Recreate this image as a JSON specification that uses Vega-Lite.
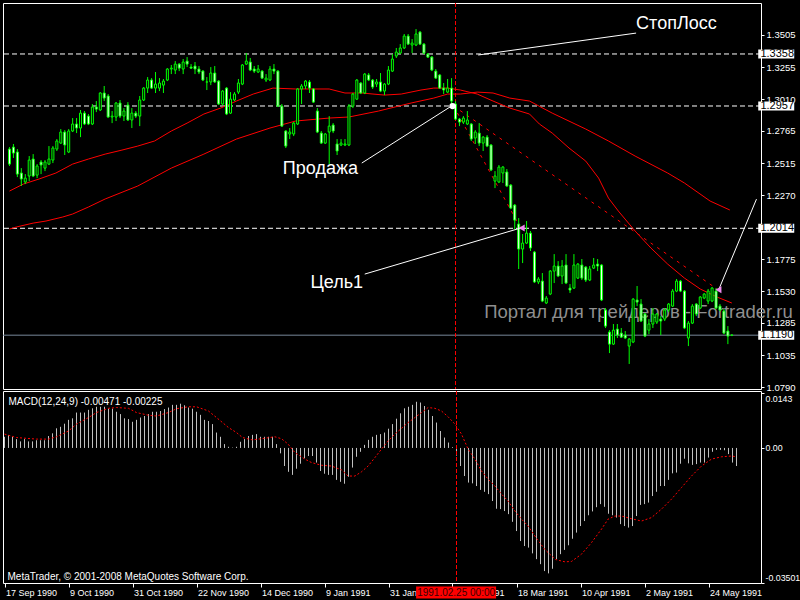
{
"$schema":"https://vega.github.io/schema/vega-lite/v6.json",
"background":"black",
"padding":{"left":2,"top":2,"right":0,"bottom":0},
"bounds":"flush",
"config":{"view":{"stroke":"white","strokeWidth":1},"text":{"font":"Liberation Sans"}},
"spacing":2,
"datasets":{
"c":[
{"i":0,"o":1.2625,"h":1.2640,"l":1.2494,"c":1.2509},{"i":1,"o":1.2640,"h":1.2664,"l":1.2556,"c":1.2594},{"i":2,"o":1.2602,"h":1.2625,"l":1.2409,"c":1.2432},{"i":3,"o":1.2440,"h":1.2478,"l":1.2340,"c":1.2394},{"i":4,"o":1.2371,"h":1.2432,"l":1.2355,"c":1.2401},{"i":5,"o":1.2417,"h":1.2571,"l":1.2378,"c":1.2540},{"i":6,"o":1.2548,"h":1.2586,"l":1.2409,"c":1.2417},{"i":7,"o":1.2424,"h":1.2509,"l":1.2401,"c":1.2494},{"i":8,"o":1.2525,"h":1.2540,"l":1.2432,"c":1.2502},{"i":9,"o":1.2478,"h":1.2540,"l":1.2455,"c":1.2525},
{"i":10,"o":1.2509,"h":1.2648,"l":1.2502,"c":1.2548},{"i":11,"o":1.2540,"h":1.2648,"l":1.2517,"c":1.2633},{"i":12,"o":1.2625,"h":1.2702,"l":1.2610,"c":1.2687},{"i":13,"o":1.2671,"h":1.2779,"l":1.2664,"c":1.2756},{"i":14,"o":1.2756,"h":1.2771,"l":1.2579,"c":1.2656},{"i":15,"o":1.2602,"h":1.2779,"l":1.2594,"c":1.2764},{"i":16,"o":1.2764,"h":1.2864,"l":1.2756,"c":1.2818},{"i":17,"o":1.2818,"h":1.2864,"l":1.2748,"c":1.2787},{"i":18,"o":1.2787,"h":1.2926,"l":1.2717,"c":1.2902},{"i":19,"o":1.2902,"h":1.2918,"l":1.2810,"c":1.2818},
{"i":20,"o":1.2879,"h":1.2895,"l":1.2810,"c":1.2818},{"i":21,"o":1.2818,"h":1.2972,"l":1.2810,"c":1.2949},{"i":22,"o":1.2949,"h":1.2995,"l":1.2910,"c":1.2933},{"i":23,"o":1.2926,"h":1.3064,"l":1.2918,"c":1.3057},{"i":24,"o":1.3057,"h":1.3111,"l":1.2995,"c":1.3018},{"i":25,"o":1.3034,"h":1.3049,"l":1.2864,"c":1.2872},{"i":26,"o":1.2872,"h":1.2918,"l":1.2825,"c":1.2879},{"i":27,"o":1.2872,"h":1.2987,"l":1.2841,"c":1.2980},{"i":28,"o":1.2980,"h":1.3003,"l":1.2864,"c":1.2879},{"i":29,"o":1.2879,"h":1.2941,"l":1.2841,"c":1.2918},
{"i":30,"o":1.2964,"h":1.2987,"l":1.2841,"c":1.2849},{"i":31,"o":1.2849,"h":1.2941,"l":1.2787,"c":1.2902},{"i":32,"o":1.2902,"h":1.2918,"l":1.2864,"c":1.2879},{"i":33,"o":1.2879,"h":1.3034,"l":1.2802,"c":1.3003},{"i":34,"o":1.3003,"h":1.3103,"l":1.2995,"c":1.3095},{"i":35,"o":1.3095,"h":1.3180,"l":1.3057,"c":1.3157},{"i":36,"o":1.3157,"h":1.3172,"l":1.3088,"c":1.3095},{"i":37,"o":1.3095,"h":1.3219,"l":1.3057,"c":1.3126},{"i":38,"o":1.3095,"h":1.3172,"l":1.3072,"c":1.3134},{"i":39,"o":1.3118,"h":1.3165,"l":1.3057,"c":1.3149},
{"i":40,"o":1.3157,"h":1.3249,"l":1.3149,"c":1.3242},{"i":41,"o":1.3242,"h":1.3273,"l":1.3203,"c":1.3249},{"i":42,"o":1.3234,"h":1.3303,"l":1.3203,"c":1.3280},{"i":43,"o":1.3280,"h":1.3288,"l":1.3226,"c":1.3249},{"i":44,"o":1.3242,"h":1.3319,"l":1.3203,"c":1.3296},{"i":45,"o":1.3303,"h":1.3334,"l":1.3257,"c":1.3280},{"i":46,"o":1.3257,"h":1.3280,"l":1.3242,"c":1.3249},{"i":47,"o":1.3265,"h":1.3296,"l":1.3203,"c":1.3242},{"i":48,"o":1.3242,"h":1.3265,"l":1.3203,"c":1.3219},{"i":49,"o":1.3226,"h":1.3234,"l":1.3149,"c":1.3157},
{"i":50,"o":1.3142,"h":1.3180,"l":1.3080,"c":1.3142},{"i":51,"o":1.3142,"h":1.3257,"l":1.3118,"c":1.3211},{"i":52,"o":1.3211,"h":1.3265,"l":1.3134,"c":1.3142},{"i":53,"o":1.3149,"h":1.3157,"l":1.2964,"c":1.2972},{"i":54,"o":1.2972,"h":1.3080,"l":1.2964,"c":1.3072},{"i":55,"o":1.3095,"h":1.3103,"l":1.2887,"c":1.2895},{"i":56,"o":1.2902,"h":1.3064,"l":1.2895,"c":1.3010},{"i":57,"o":1.3003,"h":1.3064,"l":1.2995,"c":1.3049},{"i":58,"o":1.3064,"h":1.3165,"l":1.3049,"c":1.3134},{"i":59,"o":1.3126,"h":1.3280,"l":1.3118,"c":1.3273},
{"i":60,"o":1.3280,"h":1.3365,"l":1.3273,"c":1.3303},{"i":61,"o":1.3296,"h":1.3327,"l":1.3226,"c":1.3234},{"i":62,"o":1.3242,"h":1.3265,"l":1.3211,"c":1.3226},{"i":63,"o":1.3219,"h":1.3273,"l":1.3211,"c":1.3242},{"i":64,"o":1.3226,"h":1.3234,"l":1.3165,"c":1.3172},{"i":65,"o":1.3157,"h":1.3203,"l":1.3142,"c":1.3172},{"i":66,"o":1.3157,"h":1.3265,"l":1.3149,"c":1.3242},{"i":67,"o":1.3242,"h":1.3280,"l":1.3203,"c":1.3226},{"i":68,"o":1.3226,"h":1.3234,"l":1.2949,"c":1.2956},{"i":69,"o":1.2956,"h":1.2972,"l":1.2795,"c":1.2802},
{"i":70,"o":1.2764,"h":1.2771,"l":1.2633,"c":1.2648},{"i":71,"o":1.2741,"h":1.2787,"l":1.2702,"c":1.2756},{"i":72,"o":1.2741,"h":1.2833,"l":1.2725,"c":1.2825},{"i":73,"o":1.2818,"h":1.3095,"l":1.2810,"c":1.3088},{"i":74,"o":1.3088,"h":1.3126,"l":1.2972,"c":1.3111},{"i":75,"o":1.3111,"h":1.3157,"l":1.3088,"c":1.3149},{"i":76,"o":1.3142,"h":1.3157,"l":1.3057,"c":1.3095},{"i":77,"o":1.3088,"h":1.3095,"l":1.2980,"c":1.2987},{"i":78,"o":1.2918,"h":1.2941,"l":1.2748,"c":1.2756},{"i":79,"o":1.2748,"h":1.2764,"l":1.2664,"c":1.2671},
{"i":80,"o":1.2671,"h":1.2748,"l":1.2664,"c":1.2741},{"i":81,"o":1.2756,"h":1.2879,"l":1.2509,"c":1.2802},{"i":82,"o":1.2810,"h":1.2825,"l":1.2748,"c":1.2764},{"i":83,"o":1.2664,"h":1.2702,"l":1.2579,"c":1.2610},{"i":84,"o":1.2656,"h":1.2702,"l":1.2648,"c":1.2671},{"i":85,"o":1.2656,"h":1.2702,"l":1.2648,"c":1.2664},{"i":86,"o":1.2656,"h":1.2972,"l":1.2648,"c":1.2956},{"i":87,"o":1.2956,"h":1.3057,"l":1.2941,"c":1.3049},{"i":88,"o":1.3010,"h":1.3165,"l":1.3003,"c":1.3157},{"i":89,"o":1.3134,"h":1.3142,"l":1.3049,"c":1.3057},
{"i":90,"o":1.3057,"h":1.3211,"l":1.3049,"c":1.3203},{"i":91,"o":1.3196,"h":1.3211,"l":1.3149,"c":1.3157},{"i":92,"o":1.3157,"h":1.3165,"l":1.3088,"c":1.3103},{"i":93,"o":1.3126,"h":1.3165,"l":1.3103,"c":1.3142},{"i":94,"o":1.3142,"h":1.3211,"l":1.3064,"c":1.3072},{"i":95,"o":1.3072,"h":1.3134,"l":1.3041,"c":1.3126},{"i":96,"o":1.3126,"h":1.3265,"l":1.3118,"c":1.3234},{"i":97,"o":1.3226,"h":1.3357,"l":1.3219,"c":1.3319},{"i":98,"o":1.3342,"h":1.3404,"l":1.3327,"c":1.3373},{"i":99,"o":1.3365,"h":1.3434,"l":1.3357,"c":1.3404},
{"i":100,"o":1.3404,"h":1.3512,"l":1.3396,"c":1.3496},{"i":101,"o":1.3496,"h":1.3512,"l":1.3427,"c":1.3434},{"i":102,"o":1.3427,"h":1.3473,"l":1.3365,"c":1.3442},{"i":103,"o":1.3427,"h":1.3550,"l":1.3419,"c":1.3512},{"i":104,"o":1.3527,"h":1.3535,"l":1.3427,"c":1.3434},{"i":105,"o":1.3434,"h":1.3442,"l":1.3357,"c":1.3365},{"i":106,"o":1.3357,"h":1.3365,"l":1.3327,"c":1.3334},{"i":107,"o":1.3334,"h":1.3342,"l":1.3226,"c":1.3234},{"i":108,"o":1.3226,"h":1.3242,"l":1.3165,"c":1.3172},{"i":109,"o":1.3196,"h":1.3203,"l":1.3088,"c":1.3095},
{"i":110,"o":1.3095,"h":1.3134,"l":1.3049,"c":1.3080},{"i":111,"o":1.3064,"h":1.3165,"l":1.3057,"c":1.3095},{"i":112,"o":1.3095,"h":1.3172,"l":1.2972,"c":1.2995},{"i":113,"o":1.2972,"h":1.2995,"l":1.2849,"c":1.2856},{"i":114,"o":1.2856,"h":1.2864,"l":1.2802,"c":1.2833},{"i":115,"o":1.2833,"h":1.2879,"l":1.2818,"c":1.2864},{"i":116,"o":1.2818,"h":1.2918,"l":1.2810,"c":1.2849},{"i":117,"o":1.2818,"h":1.2825,"l":1.2687,"c":1.2702},{"i":118,"o":1.2710,"h":1.2771,"l":1.2664,"c":1.2756},{"i":119,"o":1.2748,"h":1.2825,"l":1.2648,"c":1.2671},
{"i":120,"o":1.2671,"h":1.2725,"l":1.2610,"c":1.2717},{"i":121,"o":1.2717,"h":1.2733,"l":1.2640,"c":1.2648},{"i":122,"o":1.2656,"h":1.2664,"l":1.2455,"c":1.2463},{"i":123,"o":1.2378,"h":1.2455,"l":1.2324,"c":1.2417},{"i":124,"o":1.2371,"h":1.2502,"l":1.2363,"c":1.2486},{"i":125,"o":1.2440,"h":1.2494,"l":1.2363,"c":1.2486},{"i":126,"o":1.2448,"h":1.2471,"l":1.2332,"c":1.2340},{"i":127,"o":1.2347,"h":1.2355,"l":1.2162,"c":1.2170},{"i":128,"o":1.2193,"h":1.2201,"l":1.2008,"c":1.2077},{"i":129,"o":1.2047,"h":1.2093,"l":1.1700,"c":1.1854},
{"i":130,"o":1.1854,"h":1.1970,"l":1.1746,"c":1.1900},{"i":131,"o":1.1900,"h":1.2070,"l":1.1893,"c":1.1977},{"i":132,"o":1.1977,"h":1.1993,"l":1.1839,"c":1.1862},{"i":133,"o":1.1831,"h":1.1839,"l":1.1592,"c":1.1600},{"i":134,"o":1.1600,"h":1.1638,"l":1.1584,"c":1.1623},{"i":135,"o":1.1607,"h":1.1669,"l":1.1445,"c":1.1453},{"i":136,"o":1.1438,"h":1.1492,"l":1.1430,"c":1.1476},{"i":137,"o":1.1507,"h":1.1692,"l":1.1499,"c":1.1684},{"i":138,"o":1.1684,"h":1.1815,"l":1.1592,"c":1.1723},{"i":139,"o":1.1723,"h":1.1761,"l":1.1638,"c":1.1646},
{"i":140,"o":1.1646,"h":1.1769,"l":1.1584,"c":1.1723},{"i":141,"o":1.1731,"h":1.1815,"l":1.1584,"c":1.1592},{"i":142,"o":1.1553,"h":1.1584,"l":1.1515,"c":1.1538},{"i":143,"o":1.1553,"h":1.1815,"l":1.1546,"c":1.1731},{"i":144,"o":1.1630,"h":1.1746,"l":1.1623,"c":1.1738},{"i":145,"o":1.1731,"h":1.1777,"l":1.1615,"c":1.1630},{"i":146,"o":1.1715,"h":1.1723,"l":1.1600,"c":1.1615},{"i":147,"o":1.1615,"h":1.1723,"l":1.1607,"c":1.1700},{"i":148,"o":1.1707,"h":1.1785,"l":1.1700,"c":1.1731},{"i":149,"o":1.1738,"h":1.1777,"l":1.1684,"c":1.1723},
{"i":150,"o":1.1731,"h":1.1738,"l":1.1453,"c":1.1461},{"i":151,"o":1.1384,"h":1.1399,"l":1.1245,"c":1.1260},{"i":152,"o":1.1214,"h":1.1229,"l":1.1052,"c":1.1121},{"i":153,"o":1.1121,"h":1.1276,"l":1.1114,"c":1.1229},{"i":154,"o":1.1237,"h":1.1276,"l":1.1168,"c":1.1191},{"i":155,"o":1.1206,"h":1.1245,"l":1.1168,"c":1.1175},{"i":156,"o":1.1191,"h":1.1222,"l":1.1160,"c":1.1168},{"i":157,"o":1.1106,"h":1.1168,"l":1.0968,"c":1.1160},{"i":158,"o":1.1137,"h":1.1476,"l":1.1129,"c":1.1468},{"i":159,"o":1.1461,"h":1.1569,"l":1.1414,"c":1.1445},
{"i":160,"o":1.1430,"h":1.1468,"l":1.1291,"c":1.1299},{"i":161,"o":1.1353,"h":1.1361,"l":1.1175,"c":1.1183},{"i":162,"o":1.1229,"h":1.1314,"l":1.1198,"c":1.1276},{"i":163,"o":1.1276,"h":1.1399,"l":1.1245,"c":1.1353},{"i":164,"o":1.1291,"h":1.1361,"l":1.1276,"c":1.1353},{"i":165,"o":1.1314,"h":1.1337,"l":1.1191,"c":1.1299},{"i":166,"o":1.1314,"h":1.1399,"l":1.1299,"c":1.1384},{"i":167,"o":1.1384,"h":1.1438,"l":1.1368,"c":1.1430},{"i":168,"o":1.1414,"h":1.1546,"l":1.1407,"c":1.1530},{"i":169,"o":1.1530,"h":1.1623,"l":1.1522,"c":1.1607},
{"i":170,"o":1.1607,"h":1.1615,"l":1.1522,"c":1.1530},{"i":171,"o":1.1530,"h":1.1538,"l":1.1237,"c":1.1245},{"i":172,"o":1.1168,"h":1.1299,"l":1.1106,"c":1.1283},{"i":173,"o":1.1283,"h":1.1430,"l":1.1276,"c":1.1414},{"i":174,"o":1.1430,"h":1.1438,"l":1.1337,"c":1.1353},{"i":175,"o":1.1399,"h":1.1492,"l":1.1391,"c":1.1484},{"i":176,"o":1.1476,"h":1.1515,"l":1.1468,"c":1.1507},{"i":177,"o":1.1453,"h":1.1546,"l":1.1430,"c":1.1530},{"i":178,"o":1.1453,"h":1.1561,"l":1.1445,"c":1.1553},{"i":179,"o":1.1530,"h":1.1553,"l":1.1391,"c":1.1399},
{"i":180,"o":1.1414,"h":1.1430,"l":1.1376,"c":1.1384},{"i":181,"o":1.1376,"h":1.1391,"l":1.1198,"c":1.1206},{"i":182,"o":1.1222,"h":1.1260,"l":1.1121,"c":1.1183},{"i":183,"o":1.1191,"h":1.1194,"l":1.1183,"c":1.1190}
],
"m":[
{"i":0,"v":0.0029},{"i":1,"v":0.0033},{"i":2,"v":0.0029},{"i":3,"v":0.0023},{"i":4,"v":0.0017},{"i":5,"v":0.0023},{"i":6,"v":0.0017},{"i":7,"v":0.0017},{"i":8,"v":0.0020},{"i":9,"v":0.0020},
{"i":10,"v":0.0020},{"i":11,"v":0.0031},{"i":12,"v":0.0038},{"i":13,"v":0.0051},{"i":14,"v":0.0055},{"i":15,"v":0.0063},{"i":16,"v":0.0073},{"i":17,"v":0.0077},{"i":18,"v":0.0092},{"i":19,"v":0.0092},
{"i":20,"v":0.0092},{"i":21,"v":0.0099},{"i":22,"v":0.0103},{"i":23,"v":0.0107},{"i":24,"v":0.0107},{"i":25,"v":0.0107},{"i":26,"v":0.0102},{"i":27,"v":0.0102},{"i":28,"v":0.0094},{"i":29,"v":0.0088},
{"i":30,"v":0.0077},{"i":31,"v":0.0075},{"i":32,"v":0.0068},{"i":33,"v":0.0073},{"i":34,"v":0.0079},{"i":35,"v":0.0083},{"i":36,"v":0.0088},{"i":37,"v":0.0094},{"i":38,"v":0.0094},{"i":39,"v":0.0096},
{"i":40,"v":0.0101},{"i":41,"v":0.0105},{"i":42,"v":0.0112},{"i":43,"v":0.0112},{"i":44,"v":0.0115},{"i":45,"v":0.0111},{"i":46,"v":0.0105},{"i":47,"v":0.0102},{"i":48,"v":0.0094},{"i":49,"v":0.0086},
{"i":50,"v":0.0073},{"i":51,"v":0.0070},{"i":52,"v":0.0062},{"i":53,"v":0.0040},{"i":54,"v":0.0029},{"i":55,"v":0.0010},{"i":56,"v":0.0003},{"i":57,"v":0.0001},{"i":58,"v":0.0003},{"i":59,"v":0.0016},
{"i":60,"v":0.0023},{"i":61,"v":0.0031},{"i":62,"v":0.0034},{"i":63,"v":0.0036},{"i":64,"v":0.0029},{"i":65,"v":0.0029},{"i":66,"v":0.0029},{"i":67,"v":0.0029},{"i":68,"v":0.0010},{"i":69,"v":-0.0014},
{"i":70,"v":-0.0047},{"i":71,"v":-0.0062},{"i":72,"v":-0.0070},{"i":73,"v":-0.0054},{"i":74,"v":-0.0041},{"i":75,"v":-0.0027},{"i":76,"v":-0.0021},{"i":77,"v":-0.0021},{"i":78,"v":-0.0038},{"i":79,"v":-0.0060},
{"i":80,"v":-0.0067},{"i":81,"v":-0.0070},{"i":82,"v":-0.0070},{"i":83,"v":-0.0083},{"i":84,"v":-0.0088},{"i":85,"v":-0.0093},{"i":86,"v":-0.0075},{"i":87,"v":-0.0051},{"i":88,"v":-0.0023},{"i":89,"v":-0.0010},
{"i":90,"v":0.0008},{"i":91,"v":0.0021},{"i":92,"v":0.0029},{"i":93,"v":0.0034},{"i":94,"v":0.0036},{"i":95,"v":0.0040},{"i":96,"v":0.0050},{"i":97,"v":0.0062},{"i":98,"v":0.0076},{"i":99,"v":0.0090},
{"i":100,"v":0.0103},{"i":101,"v":0.0107},{"i":102,"v":0.0112},{"i":103,"v":0.0120},{"i":104,"v":0.0118},{"i":105,"v":0.0109},{"i":106,"v":0.0099},{"i":107,"v":0.0083},{"i":108,"v":0.0066},{"i":109,"v":0.0044},
{"i":110,"v":0.0027},{"i":111,"v":0.0014},{"i":112,"v":0.0002},{"i":113,"v":-0.0020},{"i":114,"v":-0.0047},{"i":115,"v":-0.0073},{"i":116,"v":-0.0090},{"i":117,"v":-0.0092},{"i":118,"v":-0.0099},{"i":119,"v":-0.0109},
{"i":120,"v":-0.0114},{"i":121,"v":-0.0120},{"i":122,"v":-0.0138},{"i":123,"v":-0.0158},{"i":124,"v":-0.0159},{"i":125,"v":-0.0164},{"i":126,"v":-0.0172},{"i":127,"v":-0.0192},{"i":128,"v":-0.0216},{"i":129,"v":-0.0242},
{"i":130,"v":-0.0255},{"i":131,"v":-0.0259},{"i":132,"v":-0.0274},{"i":133,"v":-0.0289},{"i":134,"v":-0.0302},{"i":135,"v":-0.0320},{"i":136,"v":-0.0326},{"i":137,"v":-0.0314},{"i":138,"v":-0.0289},{"i":139,"v":-0.0276},
{"i":140,"v":-0.0265},{"i":141,"v":-0.0253},{"i":142,"v":-0.0236},{"i":143,"v":-0.0220},{"i":144,"v":-0.0203},{"i":145,"v":-0.0190},{"i":146,"v":-0.0175},{"i":147,"v":-0.0165},{"i":148,"v":-0.0154},{"i":149,"v":-0.0146},
{"i":150,"v":-0.0153},{"i":151,"v":-0.0171},{"i":152,"v":-0.0175},{"i":153,"v":-0.0181},{"i":154,"v":-0.0198},{"i":155,"v":-0.0203},{"i":156,"v":-0.0207},{"i":157,"v":-0.0203},{"i":158,"v":-0.0177},{"i":159,"v":-0.0148},
{"i":160,"v":-0.0146},{"i":161,"v":-0.0142},{"i":162,"v":-0.0125},{"i":163,"v":-0.0114},{"i":164,"v":-0.0099},{"i":165,"v":-0.0099},{"i":166,"v":-0.0083},{"i":167,"v":-0.0066},{"i":168,"v":-0.0064},{"i":169,"v":-0.0041},
{"i":170,"v":-0.0028},{"i":171,"v":-0.0040},{"i":172,"v":-0.0044},{"i":173,"v":-0.0042},{"i":174,"v":-0.0038},{"i":175,"v":-0.0038},{"i":176,"v":-0.0025},{"i":177,"v":-0.0010},{"i":178,"v":-0.0005},{"i":179,"v":-0.0005},
{"i":180,"v":-0.0006},{"i":181,"v":-0.0016},{"i":182,"v":-0.0038},{"i":183,"v":-0.0047}
],
"sig":[
{"i":0,"v":0.0036},{"i":3,"v":0.0027},{"i":8,"v":0.0023},{"i":11,"v":0.0023},{"i":13,"v":0.0029},{"i":16,"v":0.0044},{"i":18,"v":0.0062},{"i":21,"v":0.0079},{"i":23,"v":0.0092},{"i":26,"v":0.0103},{"i":28,"v":0.0105},{"i":31,"v":0.0103},{"i":33,"v":0.0092},{"i":36,"v":0.0085},{"i":38,"v":0.0083},{"i":41,"v":0.0092},{"i":43,"v":0.0102},{"i":46,"v":0.0107},{"i":48,"v":0.0107},{"i":51,"v":0.0096},{"i":53,"v":0.0079},{"i":56,"v":0.0053},{"i":58,"v":0.0040},{"i":59.5,"v":0.0027},{"i":62,"v":0.0021},{"i":64.25,"v":0.0024},{"i":67.6,"v":0.0029},{"i":69.25,"v":0.0024},{"i":70.9,"v":0.0010},{"i":72.6,"v":-0.0012},{"i":75.1,"v":-0.0029},{"i":76.75,"v":-0.0038},{"i":79.25,"v":-0.0045},{"i":81.75,"v":-0.0047},{"i":84.25,"v":-0.0057},{"i":85.9,"v":-0.0073},{"i":87.6,"v":-0.0073},{"i":89.25,"v":-0.0062},{"i":90.9,"v":-0.0047},{"i":92.6,"v":-0.0025},{"i":94.25,"v":-0.0003},{"i":95.9,"v":0.0018},{"i":97.6,"v":0.0036},{"i":99.25,"v":0.0051},{"i":100.9,"v":0.0066},{"i":102.6,"v":0.0079},{"i":104.25,"v":0.0092},{"i":105.9,"v":0.0105},{"i":107.6,"v":0.0103},{"i":109.25,"v":0.0096},{"i":110.9,"v":0.0081},{"i":112.6,"v":0.0062},{"i":114.25,"v":0.0036},{"i":115.9,"v":-0.0003},{"i":117.6,"v":-0.0029},{"i":119.25,"v":-0.0060},{"i":120.9,"v":-0.0081},{"i":122.6,"v":-0.0099},{"i":124.25,"v":-0.0120},{"i":125.9,"v":-0.0138},{"i":127.6,"v":-0.0164},{"i":129.25,"v":-0.0185},{"i":130.9,"v":-0.0203},{"i":133,"v":-0.0235},{"i":135.1,"v":-0.0264},{"i":137.75,"v":-0.0290},{"i":140.1,"v":-0.0296},{"i":141.75,"v":-0.0295},{"i":144.25,"v":-0.0276},{"i":146.75,"v":-0.0246},{"i":149.25,"v":-0.0211},{"i":150.9,"v":-0.0185},{"i":152.6,"v":-0.0177},{"i":154.25,"v":-0.0177},{"i":156.75,"v":-0.0184},{"i":159.25,"v":-0.0190},{"i":161.75,"v":-0.0181},{"i":164.25,"v":-0.0159},{"i":166.75,"v":-0.0133},{"i":169.25,"v":-0.0103},{"i":171.75,"v":-0.0073},{"i":174.25,"v":-0.0047},{"i":176.75,"v":-0.0029},{"i":179.25,"v":-0.0023},{"i":181.75,"v":-0.0021},{"i":183,"v":-0.0023}
],
"ma":[
{"s":"f","i":0,"p":1.2301},{"s":"f","i":3.5,"p":1.2355},{"s":"f","i":7.5,"p":1.2394},{"s":"f","i":11.75,"p":1.2440},{"s":"f","i":16,"p":1.2509},{"s":"f","i":20,"p":1.2548},{"s":"f","i":24.25,"p":1.2586},{"s":"f","i":28.5,"p":1.2617},{"s":"f","i":32.5,"p":1.2648},{"s":"f","i":36.75,"p":1.2687},{"s":"f","i":41,"p":1.2764},{"s":"f","i":45,"p":1.2825},{"s":"f","i":49.25,"p":1.2895},{"s":"f","i":53.5,"p":1.2941},{"s":"f","i":57.5,"p":1.2995},{"s":"f","i":61.75,"p":1.3049},{"s":"f","i":66.75,"p":1.3095},{"s":"f","i":72.5,"p":1.3088},{"s":"f","i":81,"p":1.3088},{"s":"f","i":85,"p":1.3057},{"s":"f","i":89.25,"p":1.3057},{"s":"f","i":95,"p":1.3041},{"s":"f","i":99.25,"p":1.3049},{"s":"f","i":104.25,"p":1.3080},{"s":"f","i":107.5,"p":1.3095},{"s":"f","i":111,"p":1.3095},{"s":"f","i":114.25,"p":1.3080},{"s":"f","i":118.5,"p":1.3049},{"s":"f","i":122.5,"p":1.2995},{"s":"f","i":126.75,"p":1.2941},{"s":"f","i":131.75,"p":1.2895},{"s":"f","i":134.25,"p":1.2818},{"s":"f","i":137.5,"p":1.2748},{"s":"f","i":141.75,"p":1.2633},{"s":"f","i":146,"p":1.2532},{"s":"f","i":149.25,"p":1.2401},{"s":"f","i":151.75,"p":1.2247},{"s":"f","i":154.25,"p":1.2147},{"s":"f","i":158.5,"p":1.1993},{"s":"f","i":162.5,"p":1.1862},{"s":"f","i":166.75,"p":1.1738},{"s":"f","i":171,"p":1.1630},{"s":"f","i":175,"p":1.1546},{"s":"f","i":179.25,"p":1.1484},{"s":"f","i":183,"p":1.1438},
{"s":"s","i":0,"p":1.2008},{"s":"s","i":1.75,"p":1.2024},{"s":"s","i":6,"p":1.2054},{"s":"s","i":9.25,"p":1.2070},{"s":"s","i":13.5,"p":1.2101},{"s":"s","i":16,"p":1.2124},{"s":"s","i":20,"p":1.2178},{"s":"s","i":24.25,"p":1.2240},{"s":"s","i":32.5,"p":1.2340},{"s":"s","i":41,"p":1.2478},{"s":"s","i":49.25,"p":1.2586},{"s":"s","i":57.5,"p":1.2702},{"s":"s","i":66,"p":1.2787},{"s":"s","i":72.5,"p":1.2841},{"s":"s","i":81,"p":1.2864},{"s":"s","i":86,"p":1.2872},{"s":"s","i":93.5,"p":1.2918},{"s":"s","i":101.75,"p":1.2980},{"s":"s","i":107.5,"p":1.3018},{"s":"s","i":111,"p":1.3049},{"s":"s","i":114.25,"p":1.3049},{"s":"s","i":118.5,"p":1.3064},{"s":"s","i":122.5,"p":1.3057},{"s":"s","i":126.75,"p":1.3018},{"s":"s","i":131.75,"p":1.2995},{"s":"s","i":137.5,"p":1.2902},{"s":"s","i":146,"p":1.2779},{"s":"s","i":151.75,"p":1.2687},{"s":"s","i":158.5,"p":1.2571},{"s":"s","i":166.75,"p":1.2440},{"s":"s","i":171,"p":1.2363},{"s":"s","i":177.5,"p":1.2224},{"s":"s","i":182.5,"p":1.2155}
],
"tr":[{"g":"a","i":112.5,"p":1.2957},{"g":"a","i":129.5,"p":1.2016},{"g":"b","i":112.5,"p":1.2957},{"g":"b","i":179.25,"p":1.1546}],
"an":[{"g":"1","i":118.75,"p":1.3350},{"g":"1","i":158.75,"p":1.3519},{"g":"2","i":89.25,"p":1.2517},{"g":"2","i":112,"p":1.2957},{"g":"3","i":90,"p":1.1661},{"g":"3","i":129.5,"p":1.2016},{"g":"4","i":179.75,"p":1.1546},{"g":"4","i":189.25,"p":1.2239}],
"lbl":[{"i":158.75,"p":1.3550,"t":"СтопЛосс"},{"i":69.25,"p":1.2432,"t":"Продажа"},{"i":76.25,"p":1.1553,"t":"Цель1"}],
"bx":[{"p":1.3358,"t":"1.3358"},{"p":1.2957,"t":"1.2957"},{"p":1.2014,"t":"1.2014"},{"p":1.1190,"t":"1.1190"}]
},
"vconcat":[
{
"width":758,"height":386,
"layer":[
{"data":{"values":[{"p":1.3358},{"p":1.2957},{"p":1.2014}]},
 "mark":{"type":"rule","color":"white","strokeDash":[5,3],"strokeWidth":1},
 "encoding":{"y":{"field":"p","type":"quantitative","scale":{"domain":[1.0775,1.3751],"nice":false,"zero":false},
   "axis":{"orient":"right","values":[1.0790,1.1035,1.1285,1.1530,1.1775,1.2270,1.2515,1.2765,1.3010,1.3255,1.3505],"format":".4f","labelColor":"white","tickColor":"white","tickSize":3,"domain":false,"grid":false,"title":null,"labelFont":"Liberation Sans","labelFontSize":9.5,"labelPadding":2}}}},
{"data":{"values":[{"p":1.1190}]},
 "mark":{"type":"rule","color":"#778899","strokeWidth":1},
 "encoding":{"y":{"field":"p","type":"quantitative","scale":{"domain":[1.0775,1.3751],"nice":false,"zero":false},
   "axis":{"orient":"right","values":[1.0790,1.1035,1.1285,1.1530,1.1775,1.2270,1.2515,1.2765,1.3010,1.3255,1.3505],"format":".4f","labelColor":"white","tickColor":"white","tickSize":3,"domain":false,"grid":false,"title":null,"labelFont":"Liberation Sans","labelFontSize":9.5,"labelPadding":2}}}},
{"data":{"values":[{"i":120.25,"p":1.1322,"t":"Портал для трейдеров - Fortrader.ru"}]},
 "mark":{"type":"text","align":"left","baseline":"alphabetic","fontSize":18.5,"font":"Liberation Sans","color":"#8f8f8f"},
 "encoding":{"x":{"field":"i","type":"quantitative","scale":{"domain":[-0.375,189.125],"nice":false,"zero":false},"axis":null},
   "y":{"field":"p","type":"quantitative","scale":{"domain":[1.0775,1.3751],"nice":false,"zero":false},
   "axis":{"orient":"right","values":[1.0790,1.1035,1.1285,1.1530,1.1775,1.2270,1.2515,1.2765,1.3010,1.3255,1.3505],"format":".4f","labelColor":"white","tickColor":"white","tickSize":3,"domain":false,"grid":false,"title":null,"labelFont":"Liberation Sans","labelFontSize":9.5,"labelPadding":2}},"text":{"field":"t"}}},
{"data":{"values":[{"i":113}]},
 "mark":{"type":"rule","color":"#ff0000","strokeDash":[4,2],"strokeWidth":1},
 "encoding":{"x":{"field":"i","type":"quantitative","scale":{"domain":[-0.375,189.125],"nice":false,"zero":false},"axis":null}}},
{"data":{"name":"ma"},
 "mark":{"type":"line","color":"#ff0000","strokeWidth":1},
 "encoding":{"x":{"field":"i","type":"quantitative","scale":{"domain":[-0.375,189.125],"nice":false,"zero":false},"axis":null},
   "y":{"field":"p","type":"quantitative","scale":{"domain":[1.0775,1.3751],"nice":false,"zero":false},
   "axis":{"orient":"right","values":[1.0790,1.1035,1.1285,1.1530,1.1775,1.2270,1.2515,1.2765,1.3010,1.3255,1.3505],"format":".4f","labelColor":"white","tickColor":"white","tickSize":3,"domain":false,"grid":false,"title":null,"labelFont":"Liberation Sans","labelFontSize":9.5,"labelPadding":2}},"detail":{"field":"s"}}},
{"data":{"name":"tr"},
 "mark":{"type":"line","color":"#ff0000","strokeWidth":1,"strokeDash":[3,5]},
 "encoding":{"x":{"field":"i","type":"quantitative","scale":{"domain":[-0.375,189.125],"nice":false,"zero":false},"axis":null},
   "y":{"field":"p","type":"quantitative","scale":{"domain":[1.0775,1.3751],"nice":false,"zero":false},
   "axis":{"orient":"right","values":[1.0790,1.1035,1.1285,1.1530,1.1775,1.2270,1.2515,1.2765,1.3010,1.3255,1.3505],"format":".4f","labelColor":"white","tickColor":"white","tickSize":3,"domain":false,"grid":false,"title":null,"labelFont":"Liberation Sans","labelFontSize":9.5,"labelPadding":2}},"detail":{"field":"g"}}},
{"data":{"name":"c"},
 "mark":{"type":"rule","color":"#00ff00","strokeWidth":1},
 "encoding":{"x":{"field":"i","type":"quantitative","scale":{"domain":[-0.375,189.125],"nice":false,"zero":false},"axis":null},
   "y":{"field":"l","type":"quantitative","scale":{"domain":[1.0775,1.3751],"nice":false,"zero":false},
   "axis":{"orient":"right","values":[1.0790,1.1035,1.1285,1.1530,1.1775,1.2270,1.2515,1.2765,1.3010,1.3255,1.3505],"format":".4f","labelColor":"white","tickColor":"white","tickSize":3,"domain":false,"grid":false,"title":null,"labelFont":"Liberation Sans","labelFontSize":9.5,"labelPadding":2}},"y2":{"field":"h"}}},
{"data":{"name":"c"},
 "mark":{"type":"bar","width":2,"stroke":"#00ff00","strokeWidth":1},
 "encoding":{"x":{"field":"i","type":"quantitative","scale":{"domain":[-0.375,189.125],"nice":false,"zero":false},"axis":null},
   "y":{"field":"o","type":"quantitative","scale":{"domain":[1.0775,1.3751],"nice":false,"zero":false},
   "axis":{"orient":"right","values":[1.0790,1.1035,1.1285,1.1530,1.1775,1.2270,1.2515,1.2765,1.3010,1.3255,1.3505],"format":".4f","labelColor":"white","tickColor":"white","tickSize":3,"domain":false,"grid":false,"title":null,"labelFont":"Liberation Sans","labelFontSize":9.5,"labelPadding":2}},"y2":{"field":"c"},
   "fill":{"condition":{"test":"datum.c < datum.o","value":"white"},"value":"black"}}},
{"data":{"name":"an"},
 "mark":{"type":"line","color":"white","strokeWidth":1},
 "encoding":{"x":{"field":"i","type":"quantitative","scale":{"domain":[-0.375,189.125],"nice":false,"zero":false},"axis":null},
   "y":{"field":"p","type":"quantitative","scale":{"domain":[1.0775,1.3751],"nice":false,"zero":false},
   "axis":{"orient":"right","values":[1.0790,1.1035,1.1285,1.1530,1.1775,1.2270,1.2515,1.2765,1.3010,1.3255,1.3505],"format":".4f","labelColor":"white","tickColor":"white","tickSize":3,"domain":false,"grid":false,"title":null,"labelFont":"Liberation Sans","labelFontSize":9.5,"labelPadding":2}},"detail":{"field":"g"}}},
{"data":{"values":[{"i":112.25,"p":1.2956}]},
 "mark":{"type":"point","shape":"circle","filled":true,"color":"white","size":40,"opacity":1},
 "encoding":{"x":{"field":"i","type":"quantitative","scale":{"domain":[-0.375,189.125],"nice":false,"zero":false},"axis":null},
   "y":{"field":"p","type":"quantitative","scale":{"domain":[1.0775,1.3751],"nice":false,"zero":false},
   "axis":{"orient":"right","values":[1.0790,1.1035,1.1285,1.1530,1.1775,1.2270,1.2515,1.2765,1.3010,1.3255,1.3505],"format":".4f","labelColor":"white","tickColor":"white","tickSize":3,"domain":false,"grid":false,"title":null,"labelFont":"Liberation Sans","labelFontSize":9.5,"labelPadding":2}}}},
{"data":{"values":[{"i":129.75,"p":1.2016},{"i":179.6,"p":1.1540}]},
 "mark":{"type":"point","shape":"triangle-left","filled":true,"color":"#ee88ee","size":50,"opacity":1},
 "encoding":{"x":{"field":"i","type":"quantitative","scale":{"domain":[-0.375,189.125],"nice":false,"zero":false},"axis":null},
   "y":{"field":"p","type":"quantitative","scale":{"domain":[1.0775,1.3751],"nice":false,"zero":false},
   "axis":{"orient":"right","values":[1.0790,1.1035,1.1285,1.1530,1.1775,1.2270,1.2515,1.2765,1.3010,1.3255,1.3505],"format":".4f","labelColor":"white","tickColor":"white","tickSize":3,"domain":false,"grid":false,"title":null,"labelFont":"Liberation Sans","labelFontSize":9.5,"labelPadding":2}}}},
{"data":{"name":"lbl"},
 "mark":{"type":"text","align":"left","baseline":"alphabetic","fontSize":18,"font":"Liberation Sans","color":"white"},
 "encoding":{"x":{"field":"i","type":"quantitative","scale":{"domain":[-0.375,189.125],"nice":false,"zero":false},"axis":null},
   "y":{"field":"p","type":"quantitative","scale":{"domain":[1.0775,1.3751],"nice":false,"zero":false},
   "axis":{"orient":"right","values":[1.0790,1.1035,1.1285,1.1530,1.1775,1.2270,1.2515,1.2765,1.3010,1.3255,1.3505],"format":".4f","labelColor":"white","tickColor":"white","tickSize":3,"domain":false,"grid":false,"title":null,"labelFont":"Liberation Sans","labelFontSize":9.5,"labelPadding":2}},"text":{"field":"t"}}},
{"data":{"name":"bx"},
 "mark":{"type":"point","shape":"M-2,-0.5H2V0.5H-2Z","size":324,"filled":true,"color":"white","opacity":1,"strokeWidth":0},
 "encoding":{"x":{"datum":194.25,"type":"quantitative","scale":{"domain":[-0.375,189.125],"nice":false,"zero":false},"axis":null},
   "y":{"field":"p","type":"quantitative","scale":{"domain":[1.0775,1.3751],"nice":false,"zero":false},
   "axis":{"orient":"right","values":[1.0790,1.1035,1.1285,1.1530,1.1775,1.2270,1.2515,1.2765,1.3010,1.3255,1.3505],"format":".4f","labelColor":"white","tickColor":"white","tickSize":3,"domain":false,"grid":false,"title":null,"labelFont":"Liberation Sans","labelFontSize":9.5,"labelPadding":2}}}},
{"data":{"name":"bx"},
 "mark":{"type":"text","align":"left","baseline":"middle","fontSize":11,"font":"Liberation Sans","color":"black"},
 "encoding":{"x":{"datum":190.25,"type":"quantitative","scale":{"domain":[-0.375,189.125],"nice":false,"zero":false},"axis":null},
   "y":{"field":"p","type":"quantitative","scale":{"domain":[1.0775,1.3751],"nice":false,"zero":false},
   "axis":{"orient":"right","values":[1.0790,1.1035,1.1285,1.1530,1.1775,1.2270,1.2515,1.2765,1.3010,1.3255,1.3505],"format":".4f","labelColor":"white","tickColor":"white","tickSize":3,"domain":false,"grid":false,"title":null,"labelFont":"Liberation Sans","labelFontSize":9.5,"labelPadding":2}},"text":{"field":"t"}}}
]
},
{
"width":758,"height":192,
"layer":[
{"data":{"name":"m"},
 "mark":{"type":"rule","color":"#c0c0c0","strokeWidth":1},
 "encoding":{
   "x":{"field":"i","type":"quantitative","scale":{"domain":[-0.375,189.125],"nice":false,"zero":false},
     "axis":{"values":[0,16,32,48,64,80,96,112,128,144,160,176],"labelExpr":"['17 Sep 1990','9 Oct 1990','31 Oct 1990','22 Nov 1990','14 Dec 1990','9 Jan 1991','31 Jan 1991','22 Feb 1991','18 Mar 1991','10 Apr 1991','2 May 1991','24 May 1991'][round(datum.value/16)]","labelAlign":"left","labelOffset":1,"labelColor":"white","tickColor":"white","tickSize":4,"domain":false,"grid":false,"title":null,"labelFont":"Liberation Sans","labelFontSize":9,"labelPadding":1,"labelOverlap":false,"labelFlush":false}},
   "y":{"field":"v","type":"quantitative","scale":{"domain":[-0.0351,0.0148],"nice":false,"zero":false},
     "axis":{"orient":"right","values":[0.0143,0,-0.03501],"labelExpr":"datum.value == 0 ? '0.00' : (datum.value > 0 ? '0.0143' : '-0.03501')","labelColor":"white","tickColor":"white","tickSize":3,"domain":false,"grid":false,"title":null,"labelFont":"Liberation Sans","labelFontSize":8.8,"labelPadding":1,"labelBaseline":{"condition":{"test":"datum.value < -0.03","value":"bottom"},"value":"middle"},"labelOffset":{"condition":{"test":"datum.value > 0.01","value":6},"value":0}}},
   "y2":{"datum":0}}},
{"data":{"name":"sig"},
 "mark":{"type":"line","color":"#ff0000","strokeWidth":1,"strokeDash":[2,2]},
 "encoding":{"x":{"field":"i","type":"quantitative","scale":{"domain":[-0.375,189.125],"nice":false,"zero":false},
     "axis":{"values":[0,16,32,48,64,80,96,112,128,144,160,176],"labelExpr":"['17 Sep 1990','9 Oct 1990','31 Oct 1990','22 Nov 1990','14 Dec 1990','9 Jan 1991','31 Jan 1991','22 Feb 1991','18 Mar 1991','10 Apr 1991','2 May 1991','24 May 1991'][round(datum.value/16)]","labelAlign":"left","labelOffset":1,"labelColor":"white","tickColor":"white","tickSize":4,"domain":false,"grid":false,"title":null,"labelFont":"Liberation Sans","labelFontSize":9,"labelPadding":1,"labelOverlap":false,"labelFlush":false}},
   "y":{"field":"v","type":"quantitative","scale":{"domain":[-0.0351,0.0148],"nice":false,"zero":false},
     "axis":{"orient":"right","values":[0.0143,0,-0.03501],"labelExpr":"datum.value == 0 ? '0.00' : (datum.value > 0 ? '0.0143' : '-0.03501')","labelColor":"white","tickColor":"white","tickSize":3,"domain":false,"grid":false,"title":null,"labelFont":"Liberation Sans","labelFontSize":8.8,"labelPadding":1,"labelBaseline":{"condition":{"test":"datum.value < -0.03","value":"bottom"},"value":"middle"},"labelOffset":{"condition":{"test":"datum.value > 0.01","value":6},"value":0}}}}},
{"data":{"values":[{"i":113}]},
 "mark":{"type":"rule","color":"#ff0000","strokeDash":[4,2],"strokeWidth":1},
 "encoding":{"x":{"field":"i","type":"quantitative","scale":{"domain":[-0.375,189.125],"nice":false,"zero":false},
     "axis":{"values":[0,16,32,48,64,80,96,112,128,144,160,176],"labelExpr":"['17 Sep 1990','9 Oct 1990','31 Oct 1990','22 Nov 1990','14 Dec 1990','9 Jan 1991','31 Jan 1991','22 Feb 1991','18 Mar 1991','10 Apr 1991','2 May 1991','24 May 1991'][round(datum.value/16)]","labelAlign":"left","labelOffset":1,"labelColor":"white","tickColor":"white","tickSize":4,"domain":false,"grid":false,"title":null,"labelFont":"Liberation Sans","labelFontSize":9,"labelPadding":1,"labelOverlap":false,"labelFlush":false}}}},
{"data":{"values":[{"i":1.0,"v":0.0112,"t":"MACD(12,24,9) -0.00471 -0.00225"},{"i":0.75,"v":-0.0343,"t":"MetaTrader, © 2001-2008 MetaQuotes Software Corp."}]},
 "mark":{"type":"text","align":"left","baseline":"alphabetic","fontSize":10,"font":"Liberation Sans","color":"white"},
 "encoding":{"x":{"field":"i","type":"quantitative","scale":{"domain":[-0.375,189.125],"nice":false,"zero":false},
     "axis":{"values":[0,16,32,48,64,80,96,112,128,144,160,176],"labelExpr":"['17 Sep 1990','9 Oct 1990','31 Oct 1990','22 Nov 1990','14 Dec 1990','9 Jan 1991','31 Jan 1991','22 Feb 1991','18 Mar 1991','10 Apr 1991','2 May 1991','24 May 1991'][round(datum.value/16)]","labelAlign":"left","labelOffset":1,"labelColor":"white","tickColor":"white","tickSize":4,"domain":false,"grid":false,"title":null,"labelFont":"Liberation Sans","labelFontSize":9,"labelPadding":1,"labelOverlap":false,"labelFlush":false}},
   "y":{"field":"v","type":"quantitative","scale":{"domain":[-0.0351,0.0148],"nice":false,"zero":false},
     "axis":{"orient":"right","values":[0.0143,0,-0.03501],"labelExpr":"datum.value == 0 ? '0.00' : (datum.value > 0 ? '0.0143' : '-0.03501')","labelColor":"white","tickColor":"white","tickSize":3,"domain":false,"grid":false,"title":null,"labelFont":"Liberation Sans","labelFontSize":8.8,"labelPadding":1,"labelBaseline":{"condition":{"test":"datum.value < -0.03","value":"bottom"},"value":"middle"},"labelOffset":{"condition":{"test":"datum.value > 0.01","value":6},"value":0}}},"text":{"field":"t"}}},
{"data":{"values":[{"i":112.9,"v":-0.03757,"t":"1991.02.25 00:00"}]},
 "mark":{"type":"point","shape":"M-3.333,-0.5H3.333V0.5H-3.333Z","size":576,"filled":true,"color":"#ff0000","opacity":1,"strokeWidth":0},
 "encoding":{"x":{"field":"i","type":"quantitative","scale":{"domain":[-0.375,189.125],"nice":false,"zero":false},
     "axis":{"values":[0,16,32,48,64,80,96,112,128,144,160,176],"labelExpr":"['17 Sep 1990','9 Oct 1990','31 Oct 1990','22 Nov 1990','14 Dec 1990','9 Jan 1991','31 Jan 1991','22 Feb 1991','18 Mar 1991','10 Apr 1991','2 May 1991','24 May 1991'][round(datum.value/16)]","labelAlign":"left","labelOffset":1,"labelColor":"white","tickColor":"white","tickSize":4,"domain":false,"grid":false,"title":null,"labelFont":"Liberation Sans","labelFontSize":9,"labelPadding":1,"labelOverlap":false,"labelFlush":false}},
   "y":{"field":"v","type":"quantitative","scale":{"domain":[-0.0351,0.0148],"nice":false,"zero":false},
     "axis":{"orient":"right","values":[0.0143,0,-0.03501],"labelExpr":"datum.value == 0 ? '0.00' : (datum.value > 0 ? '0.0143' : '-0.03501')","labelColor":"white","tickColor":"white","tickSize":3,"domain":false,"grid":false,"title":null,"labelFont":"Liberation Sans","labelFontSize":8.8,"labelPadding":1,"labelBaseline":{"condition":{"test":"datum.value < -0.03","value":"bottom"},"value":"middle"},"labelOffset":{"condition":{"test":"datum.value > 0.01","value":6},"value":0}}}}},
{"data":{"values":[{"i":112.9,"v":-0.03757,"t":"1991.02.25 00:00"}]},
 "mark":{"type":"text","align":"center","baseline":"middle","fontSize":10,"font":"Liberation Sans","color":"#3a0000"},
 "encoding":{"x":{"field":"i","type":"quantitative","scale":{"domain":[-0.375,189.125],"nice":false,"zero":false},
     "axis":{"values":[0,16,32,48,64,80,96,112,128,144,160,176],"labelExpr":"['17 Sep 1990','9 Oct 1990','31 Oct 1990','22 Nov 1990','14 Dec 1990','9 Jan 1991','31 Jan 1991','22 Feb 1991','18 Mar 1991','10 Apr 1991','2 May 1991','24 May 1991'][round(datum.value/16)]","labelAlign":"left","labelOffset":1,"labelColor":"white","tickColor":"white","tickSize":4,"domain":false,"grid":false,"title":null,"labelFont":"Liberation Sans","labelFontSize":9,"labelPadding":1,"labelOverlap":false,"labelFlush":false}},
   "y":{"field":"v","type":"quantitative","scale":{"domain":[-0.0351,0.0148],"nice":false,"zero":false},
     "axis":{"orient":"right","values":[0.0143,0,-0.03501],"labelExpr":"datum.value == 0 ? '0.00' : (datum.value > 0 ? '0.0143' : '-0.03501')","labelColor":"white","tickColor":"white","tickSize":3,"domain":false,"grid":false,"title":null,"labelFont":"Liberation Sans","labelFontSize":8.8,"labelPadding":1,"labelBaseline":{"condition":{"test":"datum.value < -0.03","value":"bottom"},"value":"middle"},"labelOffset":{"condition":{"test":"datum.value > 0.01","value":6},"value":0}}},"text":{"field":"t"}}}
]
}
]
}
